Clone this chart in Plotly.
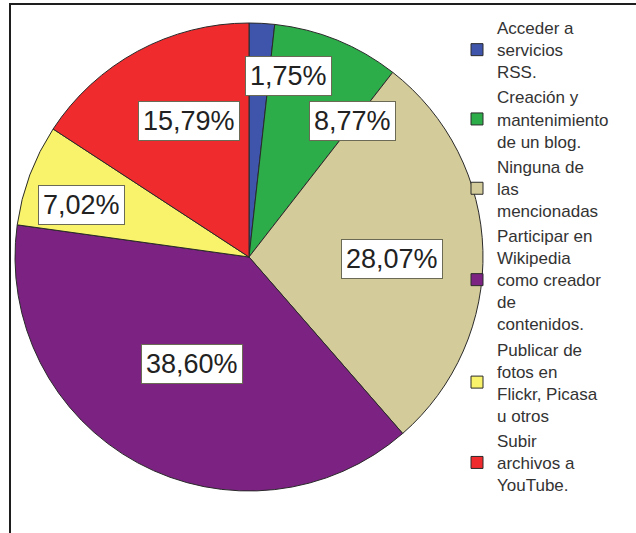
import math
import plotly.graph_objects as go

# Response counts per activity (57 respondents in total)
categories = [
    "Acceder a<br>servicios<br>RSS.",
    "Creación y<br>mantenimiento<br>de un blog.",
    "Ninguna de<br>las<br>mencionadas",
    "Participar en<br>Wikipedia<br>como creador<br>de<br>contenidos.",
    "Publicar de<br>fotos en<br>Flickr, Picasa<br>u otros",
    "Subir<br>archivos a<br>YouTube.",
]
counts = [1, 5, 16, 22, 4, 9]
colors = ["#3E55AB", "#2DAD4A", "#D4CB9A", "#7B2282", "#F8F36A", "#EF2B2E"]

# Label placement: fraction of the radius and angular nudge (degrees)
label_r = [0.79, 0.73, 0.61, 0.52, 0.75, 0.635]
label_nudge = [9.3, 15.3, 2.4, -0.4, -3.3, 4.6]

W, H = 636, 533
cx, cy, R = 249, 257, 234  # pie centre / radius in pixels

dom_x = [(cx - R) / W, (cx + R) / W]
dom_y = [(H - cy - R) / H, (H - cy + R) / H]

fig = go.Figure(
    go.Pie(
        labels=categories,
        values=counts,
        sort=False,
        direction="clockwise",
        rotation=0,
        textinfo="none",
        hoverinfo="label+percent",
        marker=dict(colors=colors, line=dict(color="#2a2a2a", width=1)),
        domain=dict(x=dom_x, y=dom_y),
    )
)

# Percentage labels in white boxes, placed along each slice's bisector
total = sum(counts)
cum = 0
for v, rf, nd in zip(counts, label_r, label_nudge):
    pct = 100 * v / total
    mid = (cum + v / 2) / total * 360 + nd
    cum += v
    px = cx + rf * R * math.sin(math.radians(mid))
    py = cy - rf * R * math.cos(math.radians(mid))
    fig.add_annotation(
        x=px / W,
        y=1 - py / H,
        xref="paper",
        yref="paper",
        xanchor="center",
        yanchor="middle",
        text=f"{pct:.2f}%".replace(".", ","),
        showarrow=False,
        font=dict(family="Liberation Sans, Arial", size=27, color="#222"),
        bgcolor="white",
        bordercolor="#6b6b55",
        borderwidth=1,
        borderpad=4,
    )

# Outer frame of the chart area
fig.add_shape(
    type="rect",
    xref="paper",
    yref="paper",
    x0=10 / W,
    x1=1.02,
    y0=-0.02,
    y1=1 - 4 / H,
    line=dict(color="#1e1e1e", width=2),
    fillcolor="rgba(0,0,0,0)",
    layer="below",
)

fig.update_layout(
    width=W,
    height=H,
    margin=dict(l=0, r=0, t=0, b=0),
    paper_bgcolor="white",
    plot_bgcolor="white",
    showlegend=True,
    legend=dict(
        x=457 / W,
        y=1 - 10 / H,
        xanchor="left",
        yanchor="top",
        bgcolor="rgba(0,0,0,0)",
        font=dict(family="Liberation Sans, Arial", size=17, color="#333"),
        traceorder="normal",
        tracegroupgap=0,
    ),
)

fig.write_html("out.html")
